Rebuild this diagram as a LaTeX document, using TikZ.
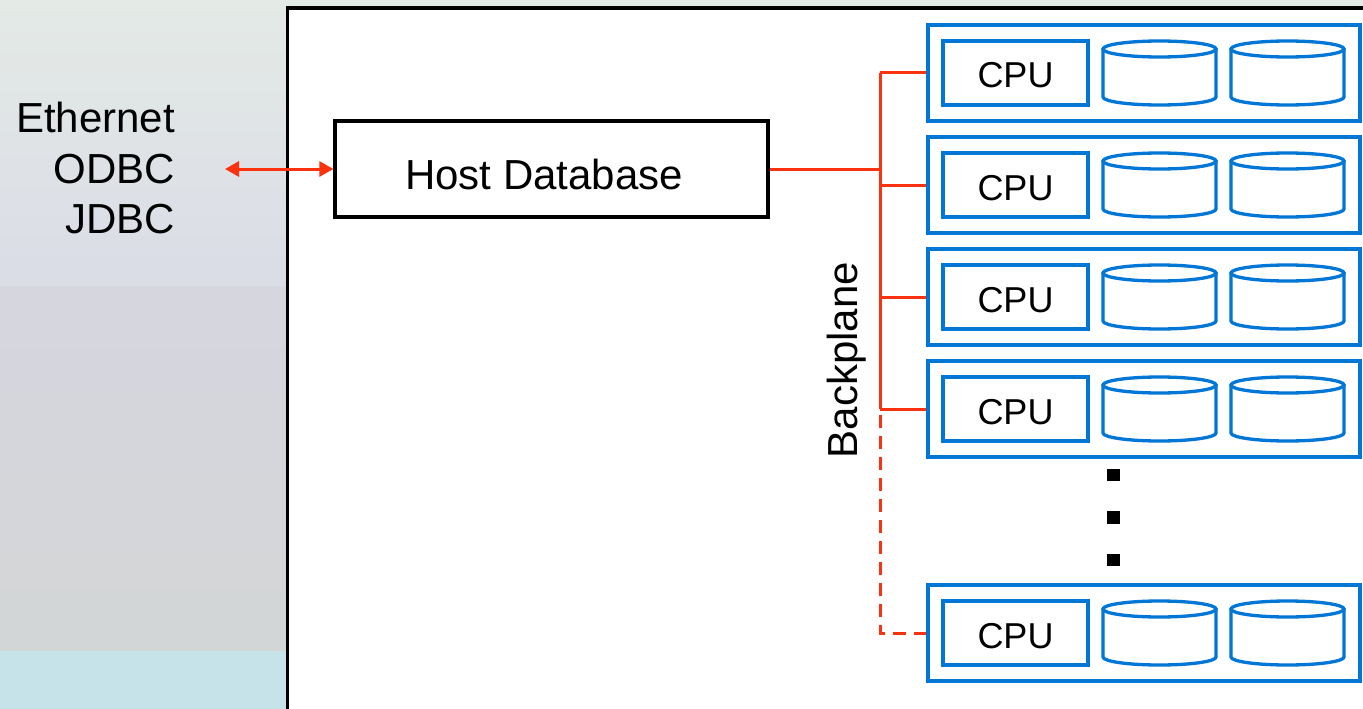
\documentclass[tikz,border=0pt]{standalone}
\usepackage{fontspec}
\setmainfont{Liberation Sans}
\usetikzlibrary{arrows.meta}
\definecolor{cpublue}{RGB}{0,118,214}
\definecolor{busred}{RGB}{250,50,15}
\definecolor{bgA}{RGB}{228,234,230}
\definecolor{bgB}{RGB}{218,220,230}
\definecolor{bgC}{RGB}{214,214,223}
\definecolor{bgD}{RGB}{211,214,214}
\definecolor{bgE}{RGB}{197,227,232}
\newcommand\cpudrum[2]{%
  \draw[blueline] (#1,#2) ellipse[x radius=56.5pt, y radius=8pt];
  \draw[blueline] (#1-56.5,#2) -- (#1-56.5,#2+48)
     arc[start angle=180, end angle=360, x radius=56.5pt, y radius=8pt] -- (#1+56.5,#2);}
\begin{document}
\begin{tikzpicture}[x=1pt,y=-1pt,
  bigtxt/.style={font=\fontsize{42}{50}\selectfont, inner sep=0pt},
  blueline/.style={draw=cpublue, line width=3.3pt},
  redline/.style={draw=busred, line width=3pt},
  hostbox/.style={draw, line width=3.3pt, fill=white, minimum width=433pt, minimum height=96pt,
     inner sep=0pt, text height=40pt, text depth=0pt, font=\fontsize{42}{50}\selectfont},
  rowbox/.style={blueline, minimum width=432pt, minimum height=96pt, inner sep=0pt},
  cpubox/.style={blueline, minimum width=145pt, minimum height=64pt, inner sep=0pt,
     text height=30pt, text depth=0pt, font=\fontsize{36}{42}\selectfont},
  dotbox/.style={fill=black, minimum size=12.5pt, inner sep=0pt}]
\useasboundingbox (0,0) rectangle (1363,709);
\clip (0,0) rectangle (1363,709);
% background
\shade[top color=bgA, bottom color=bgB] (0,0) rectangle (1363,286);
\shade[top color=bgC, bottom color=bgD] (0,286) rectangle (1363,651);
\fill[bgE] (0,651) rectangle (1363,709);
% panel
\draw[line width=3.3pt, fill=white] (287.5,8) rectangle (1380,730);
% left labels
\node[bigtxt, anchor=base east] (eth) at (175,132) {Ethernet};
\node[bigtxt, anchor=base east] (odbc) at (175,183) {ODBC};
\node[bigtxt, anchor=base east] (jdbc) at (175,233) {JDBC};
% host
\node[hostbox] (host) at (551.5,169) {Host Database\hspace*{15pt}};
\coordinate (ext) at (225,169);
\draw[redline, {Triangle[length=14pt,width=15pt]}-{Triangle[length=14pt,width=15pt]}] (ext) -- (host.west);
% rows
\foreach \t [count=\i] in {25,137,249,361,585} {
  \node[rowbox] (r\i) at (1144,\t+48) {};
  \node[cpubox] (c\i) at (1015.5,\t+48) {CPU};
  \cpudrum{1159.5}{\t+24}
  \cpudrum{1287.5}{\t+24}
}
% dots
\node[dotbox] (d1) at (1113.5,475) {};
\node[dotbox] (d2) at (1113.5,517.5) {};
\node[dotbox] (d3) at (1113.5,560) {};
% backplane
\coordinate (bp) at (880,0);
\draw[redline] (host.east) -- (host.east -| bp);
\draw[redline] (bp |- r1.west) -- (bp |- r4.west);
\foreach \i in {1,2,3,4} { \draw[redline] (bp |- r\i.west) -- (r\i.west); }
\draw[redline, dash pattern=on 13pt off 8pt, dash phase=-6pt] (bp |- r4.west) -- (bp |- r5.west) -- (r5.west);
\node[bigtxt, rotate=90] (bptxt) at (846.5,360) {Backplane};
\end{tikzpicture}
\end{document}
